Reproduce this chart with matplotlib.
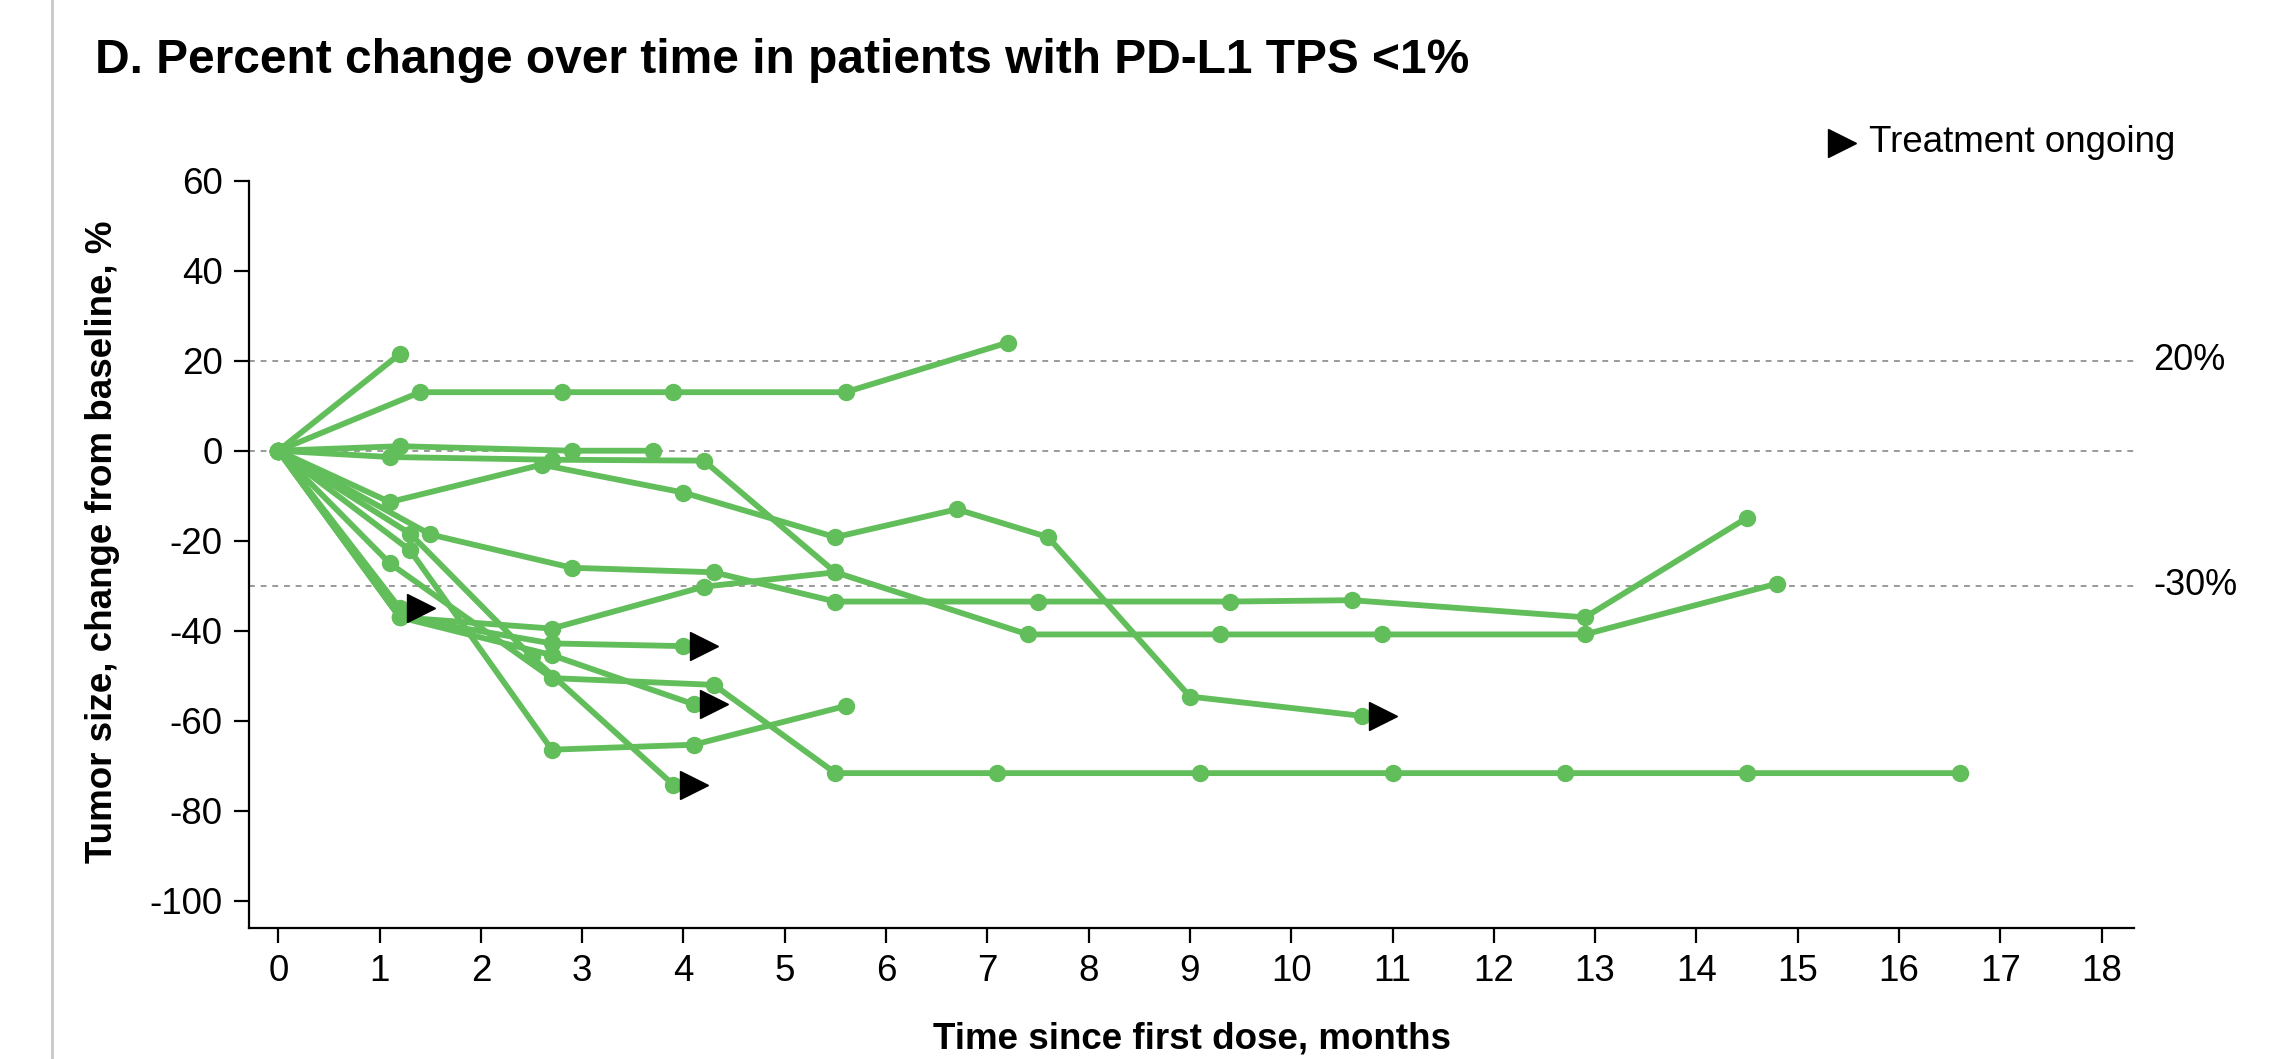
import matplotlib
matplotlib.use("Agg")
import matplotlib.pyplot as plt
import matplotlib.transforms as mtransforms
from matplotlib.lines import Line2D

plt.rcParams['font.family'] = ['Liberation Sans', 'DejaVu Sans']
plt.rcParams['axes.unicode_minus'] = False

# ---- data: (months, % change, treatment ongoing) ----
p1_t = [0, 1.2];                      p1_v = [0, 21.5]
p2_t = [0, 1.4, 2.8, 3.9, 5.6, 7.2];  p2_v = [0, 13, 13, 13, 13, 24]
p3_t = [0, 1.2, 2.9, 3.7];            p3_v = [0, 1, 0, 0]
p4_t = [0, 1.1, 2.7, 4.2, 5.5, 7.4, 9.3, 10.9, 12.9, 14.8]
p4_v = [0, -1.4, -2, -2.2, -27, -40.8, -40.8, -40.8, -40.8, -29.5]
p5_t = [0, 1.1, 2.6, 4.0, 5.5, 6.7, 7.6, 9.0, 10.7]
p5_v = [0, -11.4, -3.1, -9.3, -19.2, -13, -19.2, -54.6, -58.9]
p6_t = [0, 1.5, 2.9, 4.3, 5.5, 7.5, 9.4, 10.6, 12.9, 14.5]
p6_v = [0, -18.6, -26, -27, -33.5, -33.5, -33.5, -33.2, -37, -14.9]
p7_t = [0, 1.2, 2.7, 4.2, 5.5];       p7_v = [0, -37, -39.5, -30.2, -27]
p8_t = [0, 1.2];                      p8_v = [0, -35]
p9_t = [0, 1.2, 2.7, 4.0];            p9_v = [0, -37, -42.8, -43.4]
p10_t = [0, 1.3, 2.5, 3.9];           p10_v = [0, -18.4, -45.7, -74.2]
p11_t = [0, 1.3, 2.7, 4.1, 5.6];      p11_v = [0, -22.1, -66.4, -65.3, -56.7]
p12_t = [0, 1.2, 2.7, 4.1];           p12_v = [0, -37, -45.4, -56.3]
p13_t = [0, 1.1, 2.7, 4.3, 5.5, 7.1, 9.1, 11.0, 12.7, 14.5, 16.6]
p13_v = [0, -25, -50.5, -52, -71.6, -71.6, -71.6, -71.6, -71.6, -71.6, -71.6]

patients = [
    (p1_t, p1_v, False), (p2_t, p2_v, False), (p3_t, p3_v, False),
    (p4_t, p4_v, False), (p5_t, p5_v, True), (p6_t, p6_v, False),
    (p7_t, p7_v, False), (p8_t, p8_v, True), (p9_t, p9_v, True),
    (p10_t, p10_v, True), (p11_t, p11_v, False), (p12_t, p12_v, True),
    (p13_t, p13_v, False),
]

ref_levels = [20, 0, -30]
ref_labels = {20: '20%', -30: '-30%'}
x_ticks = list(range(0, 19))
y_ticks = list(range(-100, 61, 20))

GREEN = '#62be5a'
FS = 26.5

fig = plt.figure(figsize=(22.84, 10.59), dpi=100)
ax = fig.add_axes([0.109, 0.1237, 0.8253, 0.7058])
ax.set_xlim(-0.29, 18.32)
ax.set_ylim(-106, 60)

for lv in ref_levels:
    ax.axhline(lv, color='#9a9a9a', lw=1.4, ls=(0, (3, 3)), zorder=1)
    if lv in ref_labels:
        ax.text(1.0103, lv, ref_labels[lv], transform=ax.get_yaxis_transform(),
                ha='left', va='center', fontsize=26)

arrow_tr = mtransforms.offset_copy(ax.transData, fig=fig, x=15, y=0, units='points')
for t, v, ongoing in patients:
    ax.plot(t, v, color=GREEN, lw=4.2, marker='o', ms=11.5, zorder=3,
            solid_capstyle='round')
    if ongoing:
        ax.plot([t[-1]], [v[-1]], marker='>', color='black', ms=20, ls='none',
                transform=arrow_tr, zorder=5, clip_on=False)

for s in ['top', 'right']:
    ax.spines[s].set_visible(False)
for s in ['left', 'bottom']:
    ax.spines[s].set_linewidth(1.6)
ax.spines['left'].set_bounds(-106, 60)

ax.set_xticks(x_ticks)
ax.set_yticks(y_ticks)
ax.tick_params(axis='both', labelsize=FS, length=11, width=1.6, pad=8)

fig.text(0.0416, 0.931, 'D. Percent change over time in patients with PD-L1 TPS <1%',
         fontsize=34.5, fontweight='bold', ha='left', va='baseline')
fig.text(0.522, 0.010, 'Time since first dose, months', fontsize=FS,
         fontweight='bold', ha='center', va='baseline')
fig.text(0.0447, 0.488, 'Tumor size, change from baseline, %', fontsize=FS,
         fontweight='bold', ha='center', va='center', rotation=90)

# legend
fig.add_artist(Line2D([1842 / 2284], [1 - 143 / 1059], marker='>', color='black',
                      ms=20, ls='none', transform=fig.transFigure))
fig.text(1869 / 2284, 1 - 143 / 1059, 'Treatment ongoing', fontsize=FS,
         ha='left', va='center')

# panel border line at left
fig.add_artist(Line2D([52 / 2284, 52 / 2284], [0, 1], color='#c8c8c8', lw=2,
                      transform=fig.transFigure))

fig.savefig('out.png', dpi=100)
